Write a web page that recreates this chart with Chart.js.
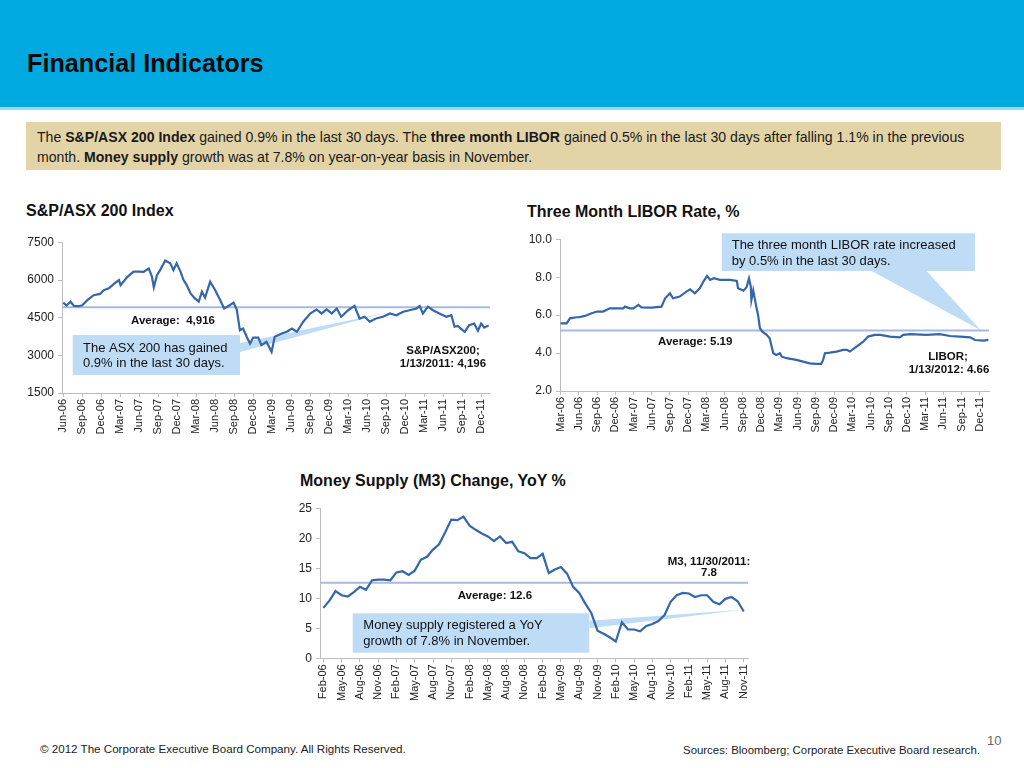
<!DOCTYPE html>
<html><head><meta charset="utf-8">
<script src="https://cdn.jsdelivr.net/npm/chart.js@4.4.1/dist/chart.umd.min.js"></script>
<style>
body{margin:0;width:1024px;height:768px;position:relative;overflow:hidden;background:#fff;font-family:"Liberation Sans",Arial,sans-serif;color:#111}
#hdr{position:absolute;left:0;top:0;width:1024px;height:107px;background:#00a9e0}
#hdrline{position:absolute;left:0;top:107px;width:1024px;height:3px;background:#93dbf3}
#title{position:absolute;left:27px;top:49px;font-size:25.2px;line-height:28px;font-weight:bold;color:#0a0a0a}
#summary{position:absolute;left:26px;top:122px;width:975px;height:48px;background:#e3d4a8;box-sizing:border-box;padding:5px 0 0 11px;font-size:14.1px;line-height:20px;color:#1a1a1a;white-space:nowrap}
.ct{position:absolute;font-weight:bold;font-size:16px;line-height:20px;color:#111}
.cw{position:absolute}
#foot1{position:absolute;left:40px;top:742px;font-size:11.6px;line-height:14px;color:#222}
#foot2{position:absolute;right:44px;top:743px;font-size:11.4px;line-height:14px;color:#222}
#pg{position:absolute;left:987px;top:733px;font-size:13px;line-height:16px;color:#666}
</style></head>
<body>
<div id="hdr"></div><div id="hdrline"></div>
<div id="title">Financial Indicators</div>
<div id="summary">The <b>S&amp;P/ASX 200 Index</b> gained 0.9% in the last 30 days. The <b>three month LIBOR</b> gained 0.5% in the last 30 days after falling 1.1% in the previous<br>month. <b>Money supply</b> growth was at 7.8% on year-on-year basis in November.</div>
<div class="ct" style="left:26px;top:201px">S&amp;P/ASX 200 Index</div>
<div class="ct" style="left:527px;top:202px">Three Month LIBOR Rate, %</div>
<div class="ct" style="left:300px;top:471px">Money Supply (M3) Change, YoY %</div>
<div class="cw" style="left:20px;top:230px;width:480px;height:225px"><canvas id="c1" width="480" height="225"></canvas></div>
<div class="cw" style="left:505px;top:228px;width:495px;height:230px"><canvas id="c2" width="495" height="230"></canvas></div>
<div class="cw" style="left:275px;top:497px;width:485px;height:230px"><canvas id="c3" width="485" height="230"></canvas></div>
<div id="foot1">© 2012 The Corporate Executive Board Company. All Rights Reserved.</div>
<div id="foot2">Sources: Bloomberg; Corporate Executive Board research.</div>
<div id="pg">10</div>
<script>
// ---------- DATA ----------
// S&P/ASX 200 (x = months since Jun-06)
const asxMonths = [0,0.5,1.15,1.7,2.4,3.0,3.8,4.8,5.8,6.4,7.2,8.0,8.8,9.05,10.1,11.1,11.9,12.7,13.5,14.0,14.3,14.8,15.3,16.1,16.9,17.4,17.9,18.5,19.0,19.5,20.1,20.8,21.4,21.9,22.4,23.2,24.0,24.8,25.4,26.1,26.9,27.4,27.9,28.4,28.97,29.5,30.0,30.8,31.3,32.1,32.9,33.4,34.5,35.3,36.1,36.9,37.9,39.0,40.0,40.8,41.6,42.4,43.2,43.9,45.0,46.0,46.8,47.6,48.4,49.4,50.5,51.6,52.6,53.7,54.7,55.8,56.3,56.8,57.6,58.4,59.4,60.5,61.3,61.8,62.3,63.4,64.1,64.9,65.5,66.0,66.5,67.2];
const asxValues = [5100,4990,5140,4970,4960,5000,5200,5400,5450,5600,5670,5850,6000,5800,6120,6340,6340,6330,6470,6140,5710,6200,6400,6780,6670,6400,6670,6350,6000,5800,5470,5270,5140,5540,5300,5940,5600,5200,4870,4970,5100,4830,4000,4070,3740,3470,3710,3710,3410,3540,3140,3740,3870,3940,4070,3940,4340,4670,4830,4670,4830,4670,4870,4540,4800,4970,4470,4540,4340,4470,4540,4670,4600,4740,4800,4870,4970,4670,4940,4800,4670,4540,4600,4140,4170,3940,4200,4270,3980,4270,4110,4196];
const asxTickLabels = ['Jun-06','Sep-06','Dec-06','Mar-07','Jun-07','Sep-07','Dec-07','Mar-08','Jun-08','Sep-08','Dec-08','Mar-09','Jun-09','Sep-09','Dec-09','Mar-10','Jun-10','Sep-10','Dec-10','Mar-11','Jun-11','Sep-11','Dec-11'];
const asxAverage = 4916;

// Three month LIBOR (x = months since Mar-06)
const liborMonths = [0,0.99,1.54,2.63,3.0,4.0,5.1,6.03,7.0,8.1,9.0,10.3,10.6,11.4,12.0,12.8,13.3,15.0,16.6,17.2,18.0,18.5,19.6,20.7,21.3,22.1,22.9,23.5,24.1,24.6,25.2,26.2,27.9,29.0,29.2,30.1,30.6,31.0,31.3,31.4,31.7,32.2,32.5,32.8,33.2,33.9,34.4,35.0,35.5,36.1,36.4,37.2,38.8,39.9,41.0,42.1,42.9,43.2,43.5,44.3,45.4,46.5,47.1,47.6,48.7,49.8,50.6,51.7,52.6,54.2,55.8,56.4,57.5,60.2,62.4,64.1,65.7,67.4,68.2,69.6,70.4];
const liborValues = [5.57,5.57,5.83,5.89,5.89,5.96,6.10,6.19,6.19,6.36,6.36,6.36,6.45,6.36,6.36,6.54,6.41,6.40,6.45,6.89,7.15,6.89,6.98,7.24,7.36,7.15,7.42,7.77,8.07,7.86,7.95,7.86,7.86,7.80,7.42,7.29,7.47,7.94,7.50,6.80,7.30,6.45,6.00,5.31,5.13,4.96,4.78,3.99,3.90,3.99,3.81,3.73,3.64,3.55,3.46,3.43,3.43,3.64,3.99,4.02,4.08,4.17,4.17,4.08,4.34,4.60,4.87,4.96,4.96,4.87,4.83,4.96,5.00,4.96,5.00,4.90,4.87,4.83,4.69,4.66,4.70];
const liborTickLabels = ['Mar-06','Jun-06','Sep-06','Dec-06','Mar-07','Jun-07','Sep-07','Dec-07','Mar-08','Jun-08','Sep-08','Dec-08','Mar-09','Jun-09','Sep-09','Dec-09','Mar-10','Jun-10','Sep-10','Dec-10','Mar-11','Jun-11','Sep-11','Dec-11'];
const liborAverage = 5.19;

// Money supply M3 YoY % (monthly, Feb-06 .. Nov-11)
const m3Values = [8.4,9.6,11.2,10.5,10.3,11.0,11.9,11.4,13.0,13.1,13.1,13.0,14.3,14.5,13.9,14.6,16.4,16.9,18.1,19.0,21.0,23.1,23.0,23.6,22.1,21.4,20.8,20.3,19.5,20.3,19.2,19.4,17.8,17.5,16.7,16.7,17.4,14.2,14.8,15.2,14.1,11.9,10.9,9.1,7.5,4.6,4.1,3.5,2.8,6.0,4.8,4.8,4.5,5.4,5.7,6.2,7.2,9.4,10.5,10.9,10.8,10.2,10.5,10.5,9.4,9.0,9.9,10.2,9.5,7.8];
const m3TickLabels = ['Feb-06','May-06','Aug-06','Nov-06','Feb-07','May-07','Aug-07','Nov-07','Feb-08','May-08','Aug-08','Nov-08','Feb-09','May-09','Aug-09','Nov-09','Feb-10','May-10','Aug-10','Nov-10','Feb-11','May-11','Aug-11','Nov-11'];
const m3Average = 12.6;

// ---------- RENDER ----------
Chart.defaults.font.family = '"Liberation Sans", Arial, sans-serif';
Chart.defaults.color = '#222';
const LINE = '#3567a8', AVG = '#a6badf', CALLOUT = '#bfdcf6', AXIS = '#bdbdbd';

function annotPlugin(c){
  return {
    id:'annot',
    beforeDatasetsDraw(chart){
      const ctx = chart.ctx, ox = c.off[0], oy = c.off[1];
      const tx = chart.scales.x.getPixelForValue(c.tip[0]);
      const ty = chart.scales.y.getPixelForValue(c.tip[1]);
      ctx.save();
      ctx.fillStyle = CALLOUT;
      ctx.fillRect(c.box[0]-ox, c.box[1]-oy, c.box[2]-c.box[0], c.box[3]-c.box[1]);
      ctx.beginPath();
      ctx.moveTo(c.w1[0]-ox, c.w1[1]-oy);
      ctx.lineTo(c.w2[0]-ox, c.w2[1]-oy);
      ctx.lineTo(tx, ty);
      ctx.closePath();
      ctx.fill();
      ctx.restore();
    },
    afterDatasetsDraw(chart){
      const ctx = chart.ctx, ox = c.off[0], oy = c.off[1];
      ctx.save();
      ctx.textBaseline = 'middle';
      c.texts.forEach(t => {
        ctx.font = (t.bold ? 'bold ' : '') + t.size + 'px "Liberation Sans", Arial, sans-serif';
        ctx.fillStyle = '#111';
        ctx.textAlign = t.align || 'left';
        ctx.fillText(t.s, t.x-ox, t.y-oy);
      });
      ctx.restore();
    }
  };
}

function makeChart(id, o){
  const pts = o.xs.map((x,i)=>({x:x, y:o.ys[i]}));
  const avgPts = [{x:o.xmin,y:o.avg},{x:o.xmax,y:o.avg}];
  return new Chart(document.getElementById(id), {
    type:'line',
    data:{datasets:[
      {data:pts, borderColor:LINE, borderWidth:2.2, pointRadius:0, tension:0, order:0},
      {data:avgPts, borderColor:AVG, borderWidth:2, pointRadius:0, tension:0, order:1}
    ]},
    options:{
      responsive:false, animation:false, devicePixelRatio:1,
      layout:{padding:{top:o.padTop,right:o.padRight,left:0,bottom:0}},
      plugins:{legend:{display:false}, tooltip:{enabled:false}},
      scales:{
        x:{type:'linear', min:o.xmin, max:o.xmax,
          afterBuildTicks:(s)=>{ s.ticks = o.tickVals.map(v=>({value:v})); },
          afterFit:(s)=>{ s.height = o.xAxisH; },
          ticks:{autoSkip:false, minRotation:90, maxRotation:90, padding:2, font:{size:11}, color:'#222',
            callback:(v,i)=>o.tickLabels[i]},
          grid:{drawOnChartArea:false, drawTicks:true, tickLength:4, color:AXIS},
          border:{color:AXIS, width:1}
        },
        y:{min:o.ymin, max:o.ymax,
          afterFit:(s)=>{ s.width = o.yAxisW; },
          ticks:{stepSize:o.step, padding:4, font:{size:12}, color:'#222', callback:o.yFmt},
          grid:{drawOnChartArea:false, drawTicks:true, tickLength:4, color:AXIS},
          border:{color:AXIS, width:1}
        }
      }
    },
    plugins:[annotPlugin(o.annot)]
  });
}

const idx = (n,step)=>Array.from({length:n},(_,i)=>i*step);

makeChart('c1', {
  xs:asxMonths, ys:asxValues, avg:asxAverage, xmin:-0.2, xmax:67.4, ymin:1500, ymax:7500, step:1500,
  tickVals: idx(asxTickLabels.length,3), tickLabels:asxTickLabels, yFmt:(v)=>String(v),
  yAxisW:42, xAxisH:62, padTop:12.5, padRight:10,
  annot:{off:[20,230], box:[72.7,335,240,375], w1:[240,343], w2:[240,352], tip:[51,4700],
    texts:[
      {s:'The ASX 200 has gained', x:83, y:348, size:13},
      {s:'0.9% in the last 30 days.', x:83, y:363, size:13},
      {s:'Average:  4,916', x:131, y:321, size:11.5, bold:true},
      {s:'S&P/ASX200;', x:443, y:350.5, size:11.5, bold:true, align:'center'},
      {s:'1/13/2011: 4,196', x:443, y:364, size:11.5, bold:true, align:'center'}
    ]}
});

makeChart('c2', {
  xs:liborMonths, ys:liborValues, avg:liborAverage, xmin:-0.1, xmax:70.5, ymin:2, ymax:10, step:2,
  tickVals: idx(liborTickLabels.length,3), tickLabels:liborTickLabels, yFmt:(v)=>v.toFixed(1),
  yAxisW:55, xAxisH:67, padTop:11.3, padRight:11,
  annot:{off:[505,228], box:[721.7,233.3,975,271], w1:[871.7,271], w2:[926.7,271], tip:[69.2,5.19],
    texts:[
      {s:'The three month LIBOR rate increased', x:731.7, y:245, size:13},
      {s:'by 0.5% in the last 30 days.', x:731.7, y:261, size:13},
      {s:'Average: 5.19', x:658, y:341.5, size:11.5, bold:true},
      {s:'LIBOR;', x:948, y:356.5, size:11.5, bold:true, align:'center'},
      {s:'1/13/2012: 4.66', x:949, y:370, size:11.5, bold:true, align:'center'}
    ]}
});

makeChart('c3', {
  xs:m3Values.map((_,i)=>i), ys:m3Values, avg:m3Average, xmin:-0.55, xmax:69.7, ymin:0, ymax:25, step:5,
  tickVals: idx(m3TickLabels.length,3), tickLabels:m3TickLabels, yFmt:(v)=>String(v),
  yAxisW:45, xAxisH:68.7, padTop:10.3, padRight:12,
  annot:{off:[275,497], box:[352.7,613.3,589.3,652.7], w1:[589.3,620.7], w2:[589.3,628.3], tip:[68.9,8.1],
    texts:[
      {s:'Money supply registered a YoY', x:363.3, y:625.7, size:13},
      {s:'growth of 7.8% in November.', x:363.3, y:641.7, size:13},
      {s:'Average: 12.6', x:457.7, y:596, size:11.5, bold:true},
      {s:'M3, 11/30/2011:', x:709, y:561.5, size:11.5, bold:true, align:'center'},
      {s:'7.8', x:709, y:573.3, size:11.5, bold:true, align:'center'}
    ]}
});
</script>
</body></html>
